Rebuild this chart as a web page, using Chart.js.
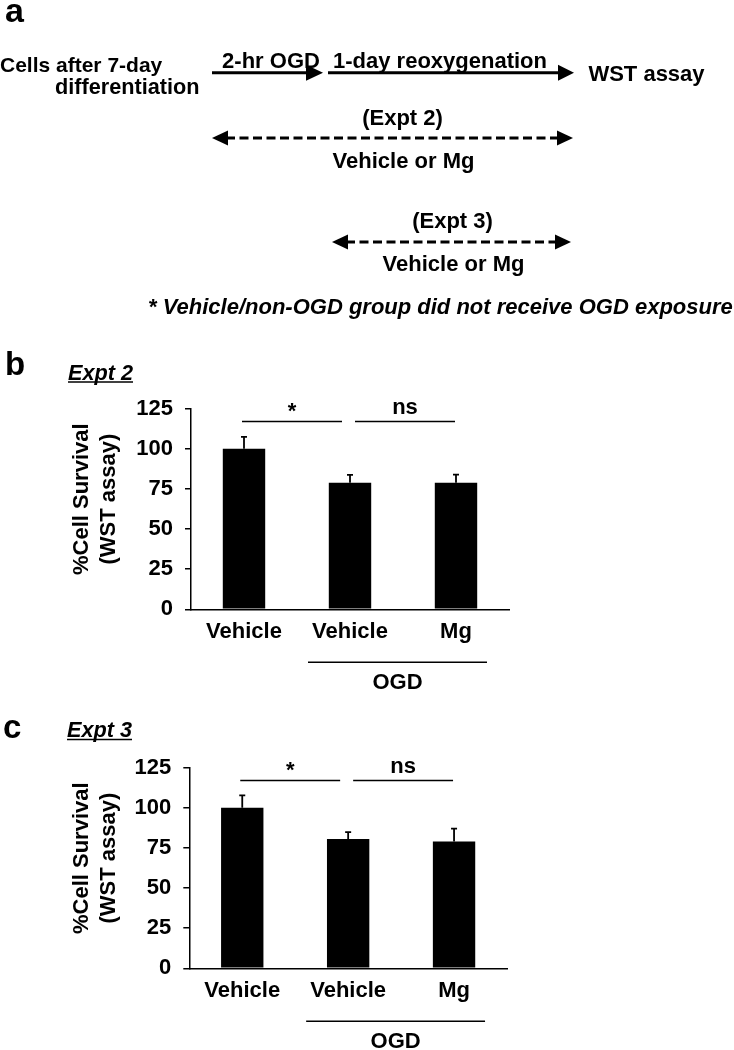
<!DOCTYPE html>
<html>
<head>
<meta charset="utf-8">
<script src="https://cdn.jsdelivr.net/npm/chart.js@4.4.1/dist/chart.umd.min.js"></script>
<style>
  html, body { margin: 0; padding: 0; background: #fff; }
  #page { position: relative; width: 734px; height: 1050px; overflow: hidden; background: #fff; }
  .box { position: absolute; left: 0; width: 734px; }
  #overlay { position: absolute; left: 0; top: 0; width: 734px; height: 1050px; pointer-events: none; }
  #overlay text { font-family: 'Liberation Sans', Arial, Helvetica, sans-serif; font-weight: bold; fill: #000; }
</style>
</head>
<body>
<div id="page">
  <div class="box" style="top:330px;height:370px;"><canvas id="chartB"></canvas></div>
  <div class="box" style="top:700px;height:350px;"><canvas id="chartC"></canvas></div>
  <svg id="overlay" width="734" height="1050" viewBox="0 0 734 1050">
    <!-- panel a -->
    <text x="5" y="22" font-size="34">a</text>
    <text x="0" y="71.5" font-size="21">Cells after 7-day</text>
    <text x="55" y="94" font-size="21.7">differentiation</text>
    <text x="271" y="68" font-size="22" text-anchor="middle">2-hr OGD</text>
    <text x="440" y="68" font-size="22" text-anchor="middle">1-day reoxygenation</text>
    <text x="646.5" y="80.5" font-size="22" text-anchor="middle">WST assay</text>
    <line x1="212" y1="72.7" x2="308" y2="72.7" stroke="#000" stroke-width="3"/>
    <polygon points="306,64.7 323,72.7 306,80.7" fill="#000"/>
    <line x1="328" y1="72.7" x2="560" y2="72.7" stroke="#000" stroke-width="3"/>
    <polygon points="558,64.7 574,72.7 558,80.7" fill="#000"/>
    <text x="402.5" y="124.5" font-size="22" text-anchor="middle">(Expt 2)</text>
    <line x1="226" y1="138" x2="560" y2="138" stroke="#000" stroke-width="3" stroke-dasharray="9 4.5"/>
    <polygon points="212,138 228,130.5 228,145.5" fill="#000"/>
    <polygon points="573,138 557,130.5 557,145.5" fill="#000"/>
    <text x="403.5" y="168" font-size="22" text-anchor="middle">Vehicle or Mg</text>
    <text x="452.5" y="228" font-size="22" text-anchor="middle">(Expt 3)</text>
    <line x1="346" y1="242" x2="558" y2="242" stroke="#000" stroke-width="3" stroke-dasharray="9 4.5"/>
    <polygon points="332,242 348,234.5 348,249.5" fill="#000"/>
    <polygon points="571,242 555,234.5 555,249.5" fill="#000"/>
    <text x="453.5" y="271" font-size="22" text-anchor="middle">Vehicle or Mg</text>
    <text x="148" y="314" font-size="22" font-style="italic">* Vehicle/non-OGD group did not receive OGD exposure</text>
    <!-- panel b / c headings -->
    <text x="5" y="375" font-size="33">b</text>
    <text x="68" y="379.5" font-size="21.7" font-style="italic">Expt 2</text>
    <line x1="68" y1="382" x2="133" y2="382" stroke="#000" stroke-width="1.5"/>
    <text x="3" y="738" font-size="33">c</text>
    <text x="67" y="737" font-size="21.7" font-style="italic">Expt 3</text>
    <line x1="67" y1="739.5" x2="132" y2="739.5" stroke="#000" stroke-width="1.5"/>
  </svg>
</div>
<script>
// ---------------- data ----------------
const categories = ['Vehicle', 'Vehicle', 'Mg'];
const yTicks = [0, 25, 50, 75, 100, 125];
const yAxisTitle = ['%Cell Survival', '(WST assay)'];

const expt2Mean = [100, 78.8, 78.9];
const expt2Err  = [7.5, 5.0, 5.0];

const expt3Mean = [100, 80.6, 79.0];
const expt3Err  = [7.7, 4.2, 8.0];

const sigFrom  = [0, 1];
const sigTo    = [1, 2];
const sigText  = ['*', 'ns'];
const sigLevel = 117;

const groupFrom  = 1;
const groupTo    = 2;
const groupLabel = 'OGD';

// ---------------- styling ----------------
const FONT = "'Liberation Sans', Arial, Helvetica, sans-serif";
Chart.defaults.font.family = FONT;
Chart.defaults.color = '#000';

const annotPlugin = {
  id: 'annot',
  afterDatasetsDraw(chart, args, opts) {
    const { ctx, scales: { x, y }, chartArea } = chart;
    const meta = chart.getDatasetMeta(0);
    ctx.save();
    ctx.strokeStyle = '#000';
    ctx.fillStyle = '#000';
    // error bars (upper whisker only)
    ctx.lineWidth = 1.8;
    meta.data.forEach((bar, i) => {
      const top = y.getPixelForValue(opts.mean[i] + opts.err[i]);
      ctx.beginPath();
      ctx.moveTo(bar.x, bar.y);
      ctx.lineTo(bar.x, top);
      ctx.moveTo(bar.x - 3, top);
      ctx.lineTo(bar.x + 3, top);
      ctx.stroke();
    });
    // significance lines
    const startOff = [-2, 5];
    const endOff = [-8, -1];
    const ly = y.getPixelForValue(sigLevel);
    ctx.lineWidth = 1.5;
    ctx.font = 'bold 22px ' + FONT;
    ctx.textAlign = 'center';
    ctx.textBaseline = 'alphabetic';
    sigFrom.forEach((f, k) => {
      const x1 = x.getPixelForValue(f) + startOff[k];
      const x2 = x.getPixelForValue(sigTo[k]) + endOff[k];
      ctx.beginPath();
      ctx.moveTo(x1, ly);
      ctx.lineTo(x2, ly);
      ctx.stroke();
      const base = sigText[k] === '*' ? ly - 4 : ly - 8;
      ctx.fillText(sigText[k], (x1 + x2) / 2, base);
    });
    // group bracket
    const gx1 = x.getPixelForValue(groupFrom) - 42;
    const gx2 = x.getPixelForValue(groupTo) + 31;
    const gy = chartArea.bottom + 53;
    ctx.beginPath();
    ctx.moveTo(gx1, gy);
    ctx.lineTo(gx2, gy);
    ctx.stroke();
    ctx.textBaseline = 'middle';
    ctx.fillText(groupLabel, (gx1 + gx2) / 2, chartArea.bottom + 73.5);
    // y-axis title
    ctx.textBaseline = 'middle';
    const cy = chartArea.top + 90.5;
    const tx = [82, 109];
    yAxisTitle.forEach((t, k) => {
      ctx.save();
      ctx.translate(tx[k], cy);
      ctx.rotate(-Math.PI / 2);
      ctx.fillText(t, 0, 0);
      ctx.restore();
    });
    ctx.restore();
  }
};

function makeChart(id, mean, err, axisWidth, pad) {
  return new Chart(document.getElementById(id), {
    type: 'bar',
    data: {
      labels: categories,
      datasets: [{
        data: mean,
        backgroundColor: '#000',
        borderWidth: 0,
        categoryPercentage: 1.0,
        barPercentage: 0.4
      }]
    },
    options: {
      responsive: true,
      maintainAspectRatio: false,
      animation: false,
      devicePixelRatio: 1,
      layout: { padding: pad },
      plugins: {
        legend: { display: false },
        tooltip: { enabled: false },
        annot: { mean: mean, err: err }
      },
      scales: {
        x: {
          grid: { display: false, drawTicks: false },
          border: { display: true, color: '#000', width: 1.5 },
          ticks: {
            font: { size: 22, weight: 'bold', family: FONT },
            color: '#000', padding: 9, maxRotation: 0, autoSkip: false
          },
          afterFit(axis) { axis.height = 40; }
        },
        y: {
          min: 0, max: 125,
          grid: { display: true, drawOnChartArea: false, drawTicks: true, tickLength: 6, color: '#000', lineWidth: 1.5 },
          border: { display: true, color: '#000', width: 1.5 },
          afterBuildTicks(axis) { axis.ticks = yTicks.map(v => ({ value: v })); },
          ticks: {
            font: { size: 22, weight: 'bold', family: FONT },
            color: '#000', padding: 12
          },
          afterFit(axis) { axis.width = axisWidth; }
        }
      }
    },
    plugins: [annotPlugin]
  });
}

makeChart('chartB', expt2Mean, expt2Err, 191, { top: 78.7, bottom: 50.7, left: 0, right: 225 });
makeChart('chartC', expt3Mean, expt3Err, 189.3, { top: 67.7, bottom: 41.7, left: 0, right: 227 });
</script>
</body>
</html>
